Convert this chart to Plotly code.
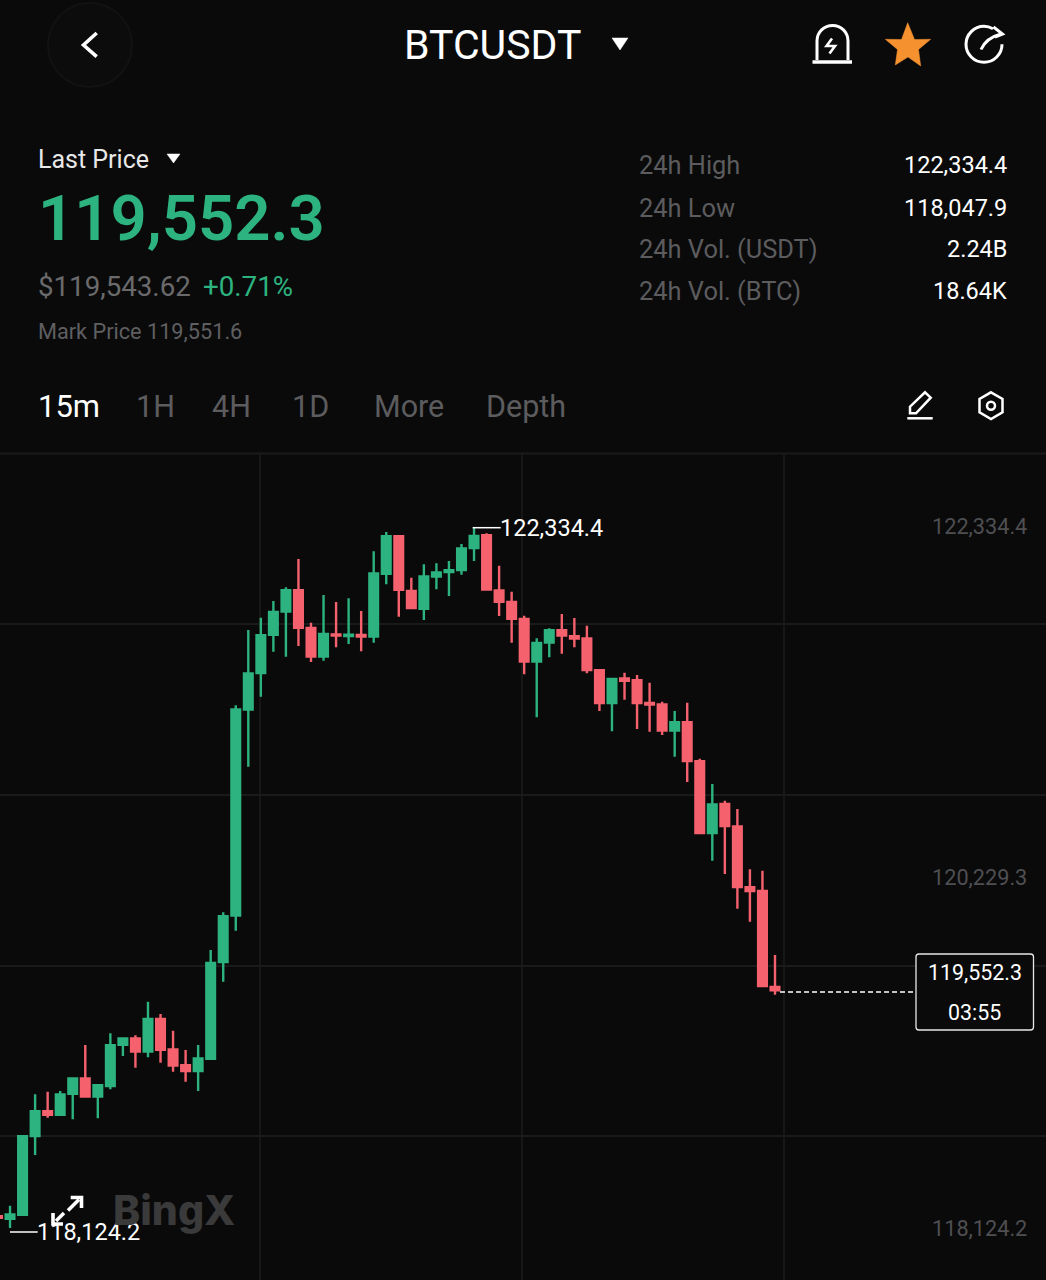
import plotly.graph_objs as go

# Candles, oldest first (15m)
candle_index = list(range(63))
open_prices = [118195.1, 118179.5, 118203.5, 118676.2, 118825.7, 118804.1, 118930.2, 119022.1, 118914, 118976.5,
               119224.5, 119262.4, 119184.3, 119380, 119196.3, 119102, 119066.6, 119140.4, 119721.2, 120001.1,
               121238.3, 121456.9, 121687, 121826.9, 121954.8, 121728.4, 121556.6, 121688.8, 121679.7, 121686.4,
               121676.7, 122053.3, 122279.1, 121950.6, 121843.1, 122037.1, 122063.5, 122075.5, 122207.7, 122285.2,
               121953, 121884.6, 121782.4, 121526.6, 121640.7, 121714.6, 121678.5, 121664.7, 121474.3, 121276.7,
               121424.5, 121414.3, 121277.3, 121268.3, 121112.2, 121162, 120927.8, 120496, 120671.4, 120535.6,
               120171, 120148.8, 119572.2]
high_prices = [118205, 118258.1, 118682.8, 118927.2, 118942.8, 118947, 119029.3, 119223.3, 118989.1, 119293.6,
               119269.5, 119281.5, 119483.4, 119409.5, 119309.2, 119193.3, 119223.3, 119793.9, 120020.3, 121263.5,
               121715.8, 121789.7, 121890, 121972.2, 122142.2, 121759.6, 121926, 121883.9, 121906.2, 121829.9,
               122188.5, 122304.4, 122286.4, 122029.9, 122110.4, 122116.4, 122130.2, 122232.3, 122334.4, 122296.6,
               122102, 121945.8, 121801.7, 121665.9, 121726, 121811.9, 121787.9, 121741.6, 121481.5, 121429.3,
               121459.3, 121445.5, 121399.3, 121285.2, 121229.3, 121279.1, 120942.8, 120790.9, 120690.6, 120640.7,
               120278.5, 120270.1, 119763.8]
low_prices = [118175, 118124.2, 118196.3, 118562.6, 118786.6, 118796.9, 118777, 118906.8, 118783, 118957.2,
              119157.2, 119087, 119149.4, 119117, 119062.9, 119002.9, 118947, 119133.2, 119603.5, 119909.8,
              120894.8, 121315.2, 121585.4, 121555.4, 121619.7, 121523.6, 121531.4, 121611.9, 121631.7, 121587.9,
              121639.5, 121990.3, 121795.7, 121840.1, 121775.8, 121960.2, 121920, 122047.9, 122130.2, 121951.8,
              121799.9, 121639.5, 121449.7, 121191.4, 121551.8, 121573.4, 121611.9, 121455.7, 121229.3, 121107.4,
              121297.2, 121121.2, 121105, 121085.2, 120954.8, 120802.9, 120488.8, 120330.2, 120250.3, 120041.9,
              119963.8, 119569.8, 119525.4]
close_prices = [118185.5, 118205.3, 118675.6, 118825.7, 118804.1, 118926, 119022.1, 118914, 118981.9, 119222.1,
                119262.4, 119184.3, 119380, 119194.5, 119100.2, 119066.6, 119142.2, 119716.4, 119996.9, 121238.3,
                121454.5, 121684.6, 121824.5, 121954.8, 121729, 121556.6, 121692.4, 121682.7, 121688.2, 121676.7,
                122055.1, 122279.1, 121957.2, 121847.3, 122037.1, 122061.1, 122074.9, 122205.3, 122280.9, 121959,
                121885.2, 121783, 121526.6, 121638.3, 121714.6, 121682.7, 121664.7, 121474.9, 121276.7, 121422.1,
                121410.7, 121276.7, 121267.7, 121112.2, 121162, 120928.4, 120496, 120667.7, 120538, 120171.6,
                120147.6, 119577.1, 119552.3]

axis_prices = [122334.4, 120229.3, 118124.2]
axis_labels = ['122,334.4', '120,229.3', '118,124.2']
grid_prices = [121751.8, 120724.8, 119697.8, 118676.7]
grid_times = [20.93, 41.83, 62.72]

BG = '#0a0a0b'
GREEN = '#2db37f'
RED = '#f5626e'
DIM = '#5c5c5e'
GRID = '#1a1a1b'
FONT = 'Roboto'

fig = go.Figure()

fig.add_trace(go.Candlestick(
    x=candle_index, open=open_prices, high=high_prices, low=low_prices, close=close_prices,
    increasing=dict(line=dict(color=GREEN, width=2.4), fillcolor=GREEN),
    decreasing=dict(line=dict(color=RED, width=2.4), fillcolor=RED),
    whiskerwidth=0, showlegend=False, hoverinfo='skip',
))
# Empty trace so the full page pixel axes exist for the app chrome
fig.add_trace(go.Scatter(x=[None], y=[None], xaxis='x3', yaxis='y3', showlegend=False, hoverinfo='skip'))


def text(label, x, y, size, color='#ffffff', anchor='left', weight=400, family=FONT, yref='y3'):
    fig.add_annotation(text=label, x=x, y=y, xref='x3', yref=yref, showarrow=False, xanchor=anchor, yanchor='middle',
                       borderpad=0, borderwidth=0, font=dict(size=size, color=color, family=family, weight=weight))


def path(d, color='#ffffff', width=3.0, fill=None, dash=None):
    fig.add_shape(type='path', path=d, xref='x3', yref='y3', fillcolor=fill or 'rgba(0,0,0,0)',
                  line=dict(color=color, width=width, dash=dash))


# Header
fig.add_shape(type='circle', xref='x3', yref='y3', x0=48, x1=132, y0=3, y1=87, fillcolor='#0c0c0d',
              line=dict(color='#121213', width=2))
path('M 96.7 33 L 83.5 45 L 96.7 56.7', width=3.6)
text('BTCUSDT', 404, 45, 41)
path('M 612 38 L 628 38 L 620 50 Z', width=0.5, fill='#ffffff')
path('M 817 60 L 817 41 C 817 32 824 25.5 832.7 25.5 C 841 25.5 848 32 848 41 L 848 60', width=3)
path('M 812.5 62 L 852 62', width=3.6)
path('M 832 38.5 L 826.5 46 L 835 46 L 829.5 53.5', width=2.6)
path('M 907.7 22.7 L 914.5 39.5 L 930.7 39.3 L 918.5 49.5 L 920.7 66 L 908 57 L 895.3 65 L 897.5 49.5 L 885.3 39.3 '
     'L 901.5 39.5 Z', color='#f5922f', width=0.5, fill='#f5922f')
path('M 993 28.7 Q 988.5 26.3 984 26.3 C 974 26.3 966 34.4 966 44.3 C 966 54.2 974 62.3 984 62.3 '
     'C 994 62.3 1002 54.2 1002 44.3', width=3)
path('M 981 49.5 Q 986 38 1001 34', width=3)
path('M 993.5 27 L 1002.5 34 L 995 37', width=3)

# Price block
text('Last Price', 38, 159, 25, '#e8e8e8')
path('M 167 154 L 180 154 L 173.5 163 Z', width=0.5, fill='#ffffff')
text('119,552.3', 38, 218, 63.5, GREEN, weight=600)
text('$119,543.62', 38, 286.5, 27.7, '#6a6a6c')
text('+0.71%', 203, 286.5, 27.7, GREEN)
text('Mark Price 119,551.6', 38, 331, 21.7, '#5f5f61')

stat_names = ['24h High', '24h Low', '24h Vol. (USDT)', '24h Vol. (BTC)']
stat_values = ['122,334.4', '118,047.9', '2.24B', '18.64K']
for name, value, y in zip(stat_names, stat_values, [165, 208, 249, 291]):
    text(name, 639, y, 25.4, DIM)
    text(value, 1007, y - 0.5, 23.5, anchor='right')

# Interval tabs
text('15m', 38, 406, 31)
for name, x in zip(['1H', '4H', '1D', 'More', 'Depth'], [136, 212, 292, 374, 486]):
    text(name, x, 406, 30.5, DIM)
path('M 910 413.3 L 910 406.7 L 925 392.3 L 930.7 397.7 L 916 413.3 Z', width=2.5)
path('M 907.3 418.3 L 932.7 418.3', width=2.5)
path('M 991 392.3 L 1002.5 399 L 1002.5 412.3 L 991 419 L 979.5 412.3 L 979.5 399 Z', width=2.5)
fig.add_shape(type='circle', xref='x3', yref='y3', x0=987, x1=995, y0=401.7, y1=409.7,
              line=dict(color='#ffffff', width=2.5))
path('M 0 453.5 L 1046 453.5', color=GRID, width=2)

# Price scale on the right, placed through the price axis
for price, label in zip(axis_prices, axis_labels):
    text(label, 1027, price, 21.7, '#4f4f52', anchor='right', yref='y')

# Extremes and last price tag
path('M 472.7 527.7 L 500.7 527.7', width=1.5)
text('122,334.4', 500, 528, 23.5)
path('M 10 1232 L 37.7 1232', width=1.5)
text('118,124.2', 37, 1232, 23.5)
path('M 780 992 L 916 992', width=1.5, dash='5px,3px')
path('M 919 954 L 1030.5 954 Q 1033.5 954 1033.5 957 L 1033.5 1027 Q 1033.5 1030 1030.5 1030 L 919 1030 '
     'Q 916 1030 916 1027 L 916 957 Q 916 954 919 954 Z', color='#e8e8e8', width=1.3, fill=BG)
text('119,552.3', 974.5, 972, 21.4, anchor='center')
text('03:55', 974.5, 1012, 21.4, anchor='center')

# Watermark and fullscreen button
text('BingX', 113, 1210, 41, '#3a3a3b', weight=800, family='Inter')
path('M 79 1199.5 L 68 1210.5', width=3.6)
path('M 70.7 1197.5 L 81.5 1197.5 L 81.5 1208', width=3.6)
path('M 56 1221 L 64 1213', width=3.6)
path('M 53 1213 L 53 1224 L 63 1224', width=3.6)

# plot_bgcolor stays transparent, the full page subplot would paint over the candles otherwise
fig.update_layout(
    width=1046, height=1280, margin=dict(l=0, r=0, t=0, b=0),
    paper_bgcolor=BG, plot_bgcolor='rgba(0,0,0,0)', showlegend=False, hovermode=False,
    boxgap=0.31, boxgroupgap=0,
    xaxis=dict(domain=[0, 1], range=[0.2, 83.61], rangeslider=dict(visible=False), showticklabels=False, ticks='',
               tickmode='array', tickvals=grid_times, showgrid=True, gridcolor='#171718', gridwidth=1.5,
               zeroline=False, showline=False),
    yaxis=dict(domain=[0, 827 / 1280], range=[117811.9, 122778.8], showticklabels=False, ticks='',
               tickmode='array', tickvals=grid_prices, showgrid=True, gridcolor=GRID, gridwidth=1.5, zeroline=False,
               showline=False),
    xaxis3=dict(domain=[0, 1], range=[0, 1046], visible=False, anchor='y3'),
    yaxis3=dict(domain=[0, 1], range=[1280, 0], visible=False, anchor='x3'),
)

fig.write_html("out.html", config=dict(displayModeBar=False),
               post_script="document.body.style.margin='0';document.body.style.background='" + BG + "';")
